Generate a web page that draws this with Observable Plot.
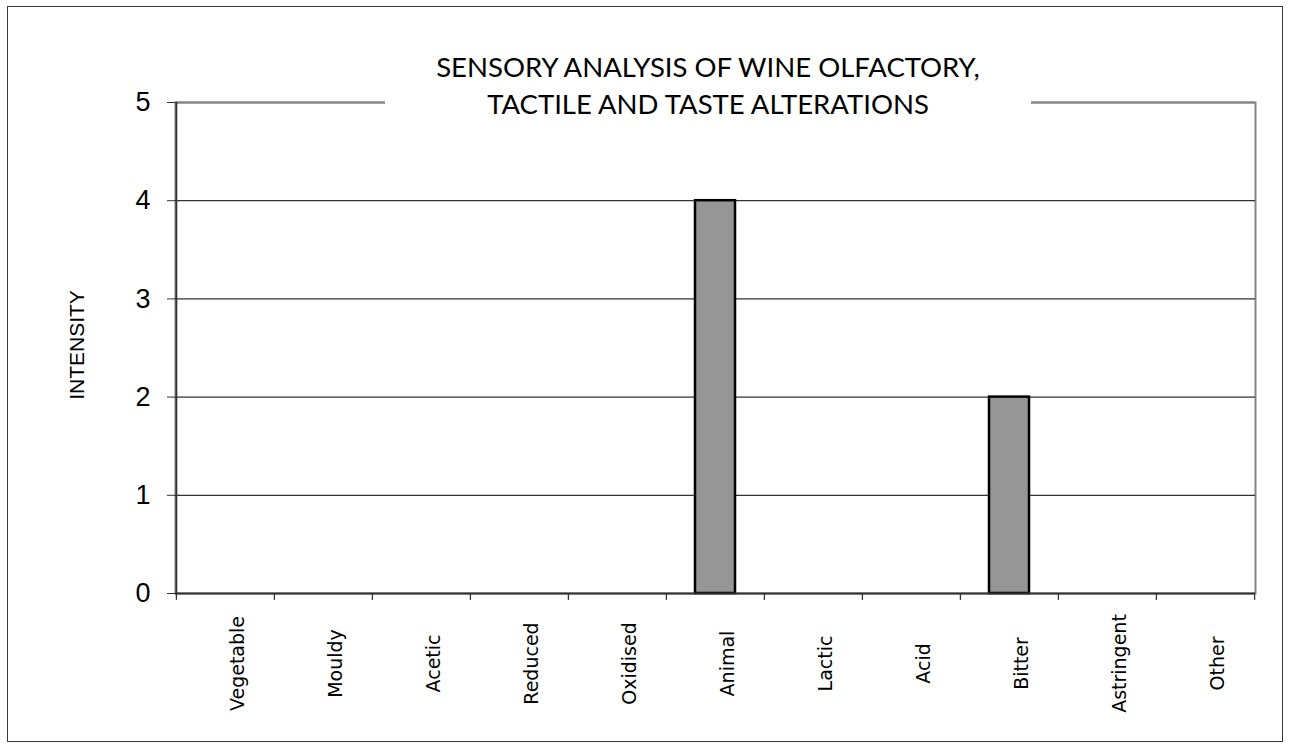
<!DOCTYPE html>
<html>
<head>
<meta charset="utf-8">
<script src="https://cdn.jsdelivr.net/npm/d3@7"></script>
<script src="https://cdn.jsdelivr.net/npm/@observablehq/plot@0.6"></script>
<style>
  html, body { margin: 0; padding: 0; background: #fff; }
  #wrap { position: relative; width: 1293px; height: 751px; overflow: hidden; }
  #frame { position: absolute; left: 7px; top: 6px; width: 1276px; height: 736px; border: 1.5px solid #3a3a3a; box-sizing: border-box; pointer-events: none; }
  #title { position: absolute; left: 385px; top: 48px; width: 646px; height: 80px; background: #fff;
           font-family: Lato, "Open Sans", sans-serif; font-size: 27.5px; line-height: 37px; text-align: center; color: #000; }
  #chart { position: absolute; left: 0; top: 0; }
</style>
</head>
<body>
<div id="wrap">
  <div id="chart"></div>
  <div id="title">SENSORY ANALYSIS OF WINE OLFACTORY,<br>TACTILE AND TASTE ALTERATIONS</div>
  <div id="frame"></div>
</div>
<script>
const categories = ["Vegetable", "Mouldy", "Acetic", "Reduced", "Oxidised", "Animal", "Lactic", "Acid", "Bitter", "Astringent", "Other"];
const intensity = [0, 0, 0, 0, 0, 4, 0, 0, 2, 0, 0];
const yTicks = [0, 1, 2, 3, 4, 5];
const yLabel = "INTENSITY";

const data = categories.map((c, i) => ({category: c, value: intensity[i]}));

const W = 1293, H = 751, mL = 175, mR = 38, mT = 102, mB = 158;
const bw = (W - mL - mR) / categories.length;

const chart = Plot.plot({
  width: W, height: H,
  marginLeft: mL, marginRight: mR, marginTop: mT, marginBottom: mB,
  style: {background: "transparent", overflow: "visible"},
  x: {domain: categories, padding: 0, axis: null},
  y: {domain: [0, 5], axis: null},
  marks: [
    Plot.frame({stroke: "#858585", strokeWidth: 2}),
    Plot.ruleY(yTicks.filter(t => t > 0 && t < 5), {stroke: "#333", strokeWidth: 1.3}),
    Plot.ruleY([5], {stroke: "#858585", strokeWidth: 2}),
    Plot.barY(data, {x: "category", y: "value", fill: "#969696", stroke: "#000", strokeWidth: 2.5, insetLeft: 29, insetRight: 29}),
    Plot.ruleY([0], {stroke: "#333", strokeWidth: 1.8}),
    Plot.ruleX(categories, {x: d => d, y1: 0, y2: -0.07, dx: -bw / 2, stroke: "#333", strokeWidth: 1.3}),
    Plot.ruleX([categories[categories.length - 1]], {x: d => d, y1: 0, y2: -0.07, dx: bw / 2, stroke: "#333", strokeWidth: 1.3}),
    Plot.axisY({ticks: yTicks, tickFormat: "d", tickSize: 8, tickPadding: 17, fontSize: 27, fontFamily: "Liberation Sans, Arial, sans-serif", label: null, stroke: "#333", color: "#000"}),
    Plot.ruleX([categories[0]], {x: d => d, y1: 0, y2: 5, dx: -bw / 2, stroke: "#333", strokeWidth: 1.8}),
    Plot.text(categories, {x: d => d, y: 0, text: d => d, rotate: -90, dx: 12, dy: 70, textAnchor: "middle", fontSize: 19, fontFamily: "DejaVu Sans, sans-serif", fill: "#000"}),
    Plot.text([yLabel], {frameAnchor: "left", dx: -98, dy: -3, rotate: -90, text: d => d, textAnchor: "middle", fontSize: 21, fontFamily: "Liberation Sans, Arial, sans-serif", fill: "#000"})
  ]
});
document.getElementById("chart").appendChild(chart);
</script>
</body>
</html>
